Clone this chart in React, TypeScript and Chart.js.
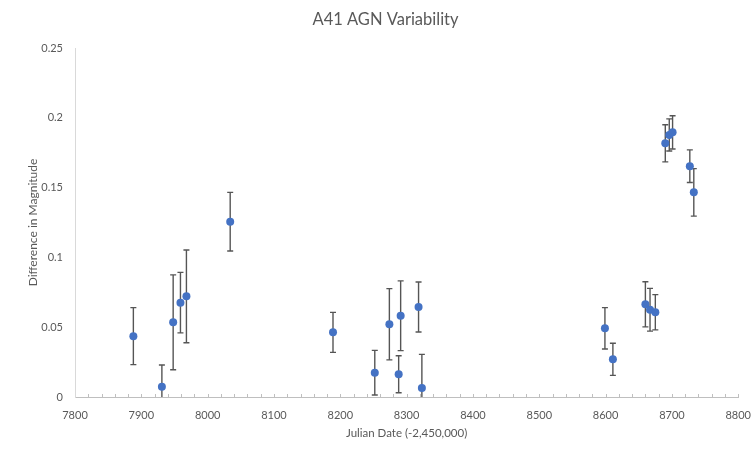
import React, { useEffect, useRef } from "react";
import { Chart, registerables } from "chart.js";

Chart.register(...registerables);

const julianDates: number[] = [
  7888, 7931, 7948, 7959, 7968, 8034, 8189, 8252, 8274, 8291, 8288, 8318, 8323,
  8599, 8611, 8660, 8667, 8675, 8690, 8696, 8701, 8727, 8733,
];
const magDiff: number[] = [
  0.0436, 0.0074, 0.0535, 0.0676, 0.0721, 0.1256, 0.0463, 0.0174, 0.0521, 0.0582, 0.0163, 0.0645, 0.0064,
  0.0492, 0.027, 0.0664, 0.0625, 0.0607, 0.1817, 0.1877, 0.1896, 0.1653, 0.1466,
];
const magErr: number[] = [
  0.0204, 0.0155, 0.034, 0.0217, 0.0332, 0.021, 0.0143, 0.016, 0.0255, 0.025, 0.0133, 0.0179, 0.0241,
  0.0148, 0.0115, 0.0162, 0.0153, 0.0126, 0.0133, 0.0115, 0.0119, 0.0117, 0.017,
];

const TITLE = "A41 AGN Variability";
const X_TITLE = "Julian Date (-2,450,000)";
const Y_TITLE = "Difference in Magnitude";
const FONT = "Lato, 'Open Sans', sans-serif";
const TEXT = "#595959";
const X_MIN = 7800;
const X_MAX = 8800;
const X_MINOR_STEP = 20;

const errorBarPlugin = {
  id: "errorBars",
  beforeDatasetsDraw(chart: any) {
    const { ctx, chartArea, scales } = chart;
    const xs = scales.x;
    const ys = scales.y;
    // minor inward ticks on the x axis
    ctx.save();
    ctx.strokeStyle = "#bfbfbf";
    ctx.lineWidth = 1;
    for (let v = X_MIN + X_MINOR_STEP; v <= X_MAX; v += X_MINOR_STEP) {
      const x = Math.round(xs.getPixelForValue(v)) + 0.5;
      ctx.beginPath();
      ctx.moveTo(x, chartArea.bottom);
      ctx.lineTo(x, chartArea.bottom - 3);
      ctx.stroke();
    }
    ctx.restore();

    ctx.save();
    ctx.beginPath();
    ctx.rect(chartArea.left, chartArea.top, chartArea.right - chartArea.left, chartArea.bottom - chartArea.top);
    ctx.clip();
    ctx.strokeStyle = "#555555";
    ctx.lineWidth = 1.4;
    const cap = 3;
    for (let i = 0; i < julianDates.length; i++) {
      const x = xs.getPixelForValue(julianDates[i]);
      const yTop = ys.getPixelForValue(magDiff[i] + magErr[i]);
      const yBot = ys.getPixelForValue(magDiff[i] - magErr[i]);
      ctx.beginPath();
      ctx.moveTo(x, yTop);
      ctx.lineTo(x, yBot);
      ctx.moveTo(x - cap, yTop);
      ctx.lineTo(x + cap, yTop);
      ctx.moveTo(x - cap, yBot);
      ctx.lineTo(x + cap, yBot);
      ctx.stroke();
    }
    ctx.restore();
  },
  afterDraw(chart: any) {
    const { ctx } = chart;
    ctx.save();
    ctx.fillStyle = TEXT;
    ctx.font = `16.5px ${FONT}`;
    ctx.textAlign = "center";
    ctx.textBaseline = "middle";
    ctx.fillText(TITLE, 385.5, 20);
    ctx.restore();
  },
};

export default function App() {
  const ref = useRef<HTMLCanvasElement | null>(null);
  useEffect(() => {
    if (!ref.current) return;
    const chart = new Chart(ref.current, {
      type: "scatter",
      data: {
        datasets: [
          {
            label: TITLE,
            data: julianDates.map((x, i) => ({ x, y: magDiff[i] })),
            backgroundColor: "#4472C4",
            borderColor: "#4472C4",
            pointRadius: 4,
            pointBorderWidth: 0,
            clip: false as any,
          },
        ],
      },
      plugins: [errorBarPlugin],
      options: {
        responsive: false,
        animation: false,
        layout: { padding: { top: 48, right: 14, bottom: 0, left: 0 } },
        plugins: {
          legend: { display: false },
          tooltip: { enabled: false },
          title: { display: false },
        },
        scales: {
          x: {
            type: "linear",
            min: X_MIN,
            max: X_MAX,
            afterFit: (s: any) => { s.height = 52; },
            border: { display: true, color: "#bfbfbf", width: 1 },
            grid: {
              display: true,
              drawOnChartArea: false,
              drawTicks: true,
              tickLength: 10,
              color: "rgba(0,0,0,0)",
            },
            ticks: {
              stepSize: 100,
              autoSkip: false,
              maxRotation: 0,
              padding: 2,
              color: TEXT,
              font: { family: FONT, size: 11 },
              callback: (v: any) => String(Math.round(v)),
            },
            title: {
              display: true,
              text: X_TITLE,
              color: TEXT,
              font: { family: FONT, size: 11.5, lineHeight: 1.2 },
              padding: { top: 0, bottom: 9 },
            },
          },
          y: {
            type: "linear",
            min: 0,
            max: 0.25,
            afterFit: (s: any) => { s.width = 75; },
            border: { display: true, color: "#d9d9d9", width: 1 },
            grid: { display: false, drawTicks: false },
            ticks: {
              stepSize: 0.05,
              padding: 12,
              color: TEXT,
              font: { family: FONT, size: 11 },
              callback: (v: any) => String(Math.round(v * 100) / 100),
            },
            title: {
              display: true,
              text: Y_TITLE,
              color: TEXT,
              font: { family: FONT, size: 12, lineHeight: 1.2 },
              padding: { top: 26, bottom: 0 },
            },
          },
        },
      },
    });
    return () => chart.destroy();
  }, []);
  return (
    <div style={{ position: "absolute", left: 0, top: 0, width: 753, height: 449, background: "#fff" }}>
      <canvas ref={ref} width={753} height={449} style={{ display: "block" }} />
    </div>
  );
}
